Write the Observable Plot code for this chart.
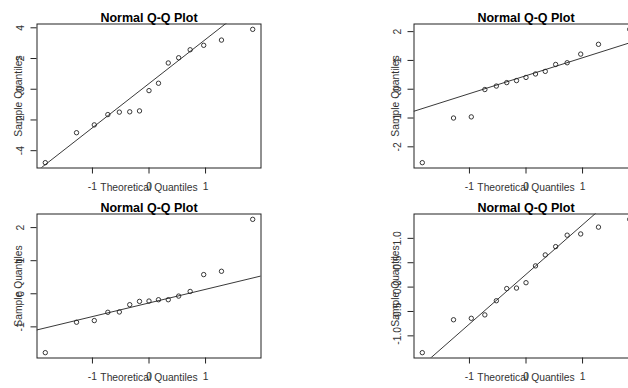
<!DOCTYPE html>
<html><head><meta charset="utf-8">
<script src="https://cdn.jsdelivr.net/npm/d3@7"></script>
<script src="https://cdn.jsdelivr.net/npm/@observablehq/plot@0.6"></script>
<style>
html,body{margin:0;padding:0;background:#fff;}
#wrap{position:relative;width:628px;height:388px;overflow:hidden;background:#fff;}
#wrap > svg{position:absolute;overflow:visible;}
</style></head><body><div id="wrap"></div>
<script>
// Theoretical normal quantiles for n = 15
const theoreticalQuantiles = [-1.8339, -1.2816, -0.9674, -0.7279, -0.5244, -0.3407, -0.1679, 0,
  0.1679, 0.3407, 0.5244, 0.7279, 0.9674, 1.2816, 1.8339];
// Sample quantiles (sorted)
const sample1 = [-4.78, -2.83, -2.32, -1.65, -1.49, -1.47, -1.41, -0.09, 0.39, 1.71, 2.05, 2.57, 2.86, 3.2, 3.9];
const sample2 = [-2.55, -1.0, -0.96, -0.01, 0.11, 0.23, 0.3, 0.41, 0.53, 0.62, 0.86, 0.92, 1.22, 1.56, 2.08];
const sample3 = [-1.78, -0.86, -0.81, -0.56, -0.55, -0.33, -0.23, -0.22, -0.18, -0.18, -0.07, 0.07, 0.58, 0.68, 2.25];
const sample4 = [-1.345, -0.67, -0.64, -0.57, -0.28, -0.03, -0.02, 0.09, 0.435, 0.66, 0.83, 1.065, 1.09, 1.23, 1.39];
const xTicks = [-1, 0, 1];
const yTicks1 = [-4, -2, 0, 2, 4];
const yTicks2 = [-2, -1, 0, 1, 2];
const yTicks3 = [-1, 0, 1, 2];
const yTicks4 = [-1, -0.5, 0, 0.5, 1];
const titleText = "Normal Q-Q Plot";
const xLabel = "Theoretical Quantiles";
const yLabel = "Sample Quantiles";

const FONT = "'Liberation Sans', Arial, sans-serif";
const INK = "#222";
const TXT = "#333";

function pad(ext) { const r = ext[1] - ext[0]; return [ext[0] - 0.04 * r, ext[1] + 0.04 * r]; }

function panel(sample, yTicks, yFmt, pos) {
  const data = theoreticalQuantiles.map((x, i) => ({x, y: sample[i]}));
  const xd = pad(d3.extent(theoreticalQuantiles));
  const yd = pad(d3.extent(sample));
  const s = sample.slice().sort(d3.ascending);
  const q1 = d3.quantileSorted(s, 0.25), q3 = d3.quantileSorted(s, 0.75);
  const z = 0.6744898;
  const slope = (q3 - q1) / (2 * z), inter = q1 + slope * z;
  const qqline = xd.map(x => ({x, y: inter + slope * x}));
  const frameH = 144;
  const plot = Plot.plot({
    width: pos.w, height: pos.h,
    marginLeft: pos.ml, marginRight: pos.w - pos.ml - 224,
    marginTop: pos.mt, marginBottom: pos.h - pos.mt - frameH,
    x: {domain: xd}, y: {domain: yd},
    style: {fontFamily: FONT, background: "transparent", color: TXT, overflow: "visible"},
    marks: [
      Plot.line(qqline, {x: "x", y: "y", stroke: INK, strokeWidth: 0.9, clip: true}),
      Plot.dot(data, {x: "x", y: "y", r: 2.2, stroke: INK, strokeWidth: 0.9, fill: "none"}),
      Plot.frame({stroke: INK, strokeWidth: 1}),
      Plot.axisX({ticks: xTicks, tickSize: 6, tickPadding: 9, fontSize: 10.3, label: null,
        stroke: INK, fill: TXT, tickFormat: d => String(d)}),
      Plot.axisY({ticks: yTicks, tickSize: 6, tickFormat: () => "", label: null, stroke: INK}),
      Plot.text(yTicks, {y: d => d, text: yFmt, frameAnchor: "left", rotate: -90, dx: -16,
        fontSize: 10.3, lineAnchor: "middle", textAnchor: "middle", fill: TXT}),
      Plot.text([yLabel], {text: d => d, frameAnchor: "left", rotate: -90, dx: -18,
        fontSize: 10.3, lineAnchor: "middle", textAnchor: "middle", fill: TXT}),
      Plot.text([xLabel], {text: d => d, frameAnchor: "bottom", lineAnchor: "top", dy: 15.3,
        fontSize: 10.3, fill: TXT}),
      Plot.text([titleText], {text: d => d, frameAnchor: "top", lineAnchor: "bottom", dy: -2.5,
        fontSize: 12.5, fontWeight: "bold", fill: "#000"})
    ]
  });
  plot.style.left = pos.left + "px";
  plot.style.top = pos.top + "px";
  document.getElementById("wrap").appendChild(plot);
}

const fmtInt = d => String(d);
const fmt1 = d => d.toFixed(1);
panel(sample1, yTicks1, fmtInt, {left: 0, top: 0, w: 314, h: 194, ml: 36.5, mt: 23.5});
panel(sample2, yTicks2, fmtInt, {left: 314, top: 0, w: 323.5, h: 194, ml: 99.5, mt: 23.5});
panel(sample3, yTicks3, fmtInt, {left: 0, top: 190, w: 314, h: 198, ml: 36.5, mt: 23.5});
panel(sample4, yTicks4, fmt1, {left: 314, top: 190, w: 323.5, h: 198, ml: 99.5, mt: 23.5});
</script></body></html>
